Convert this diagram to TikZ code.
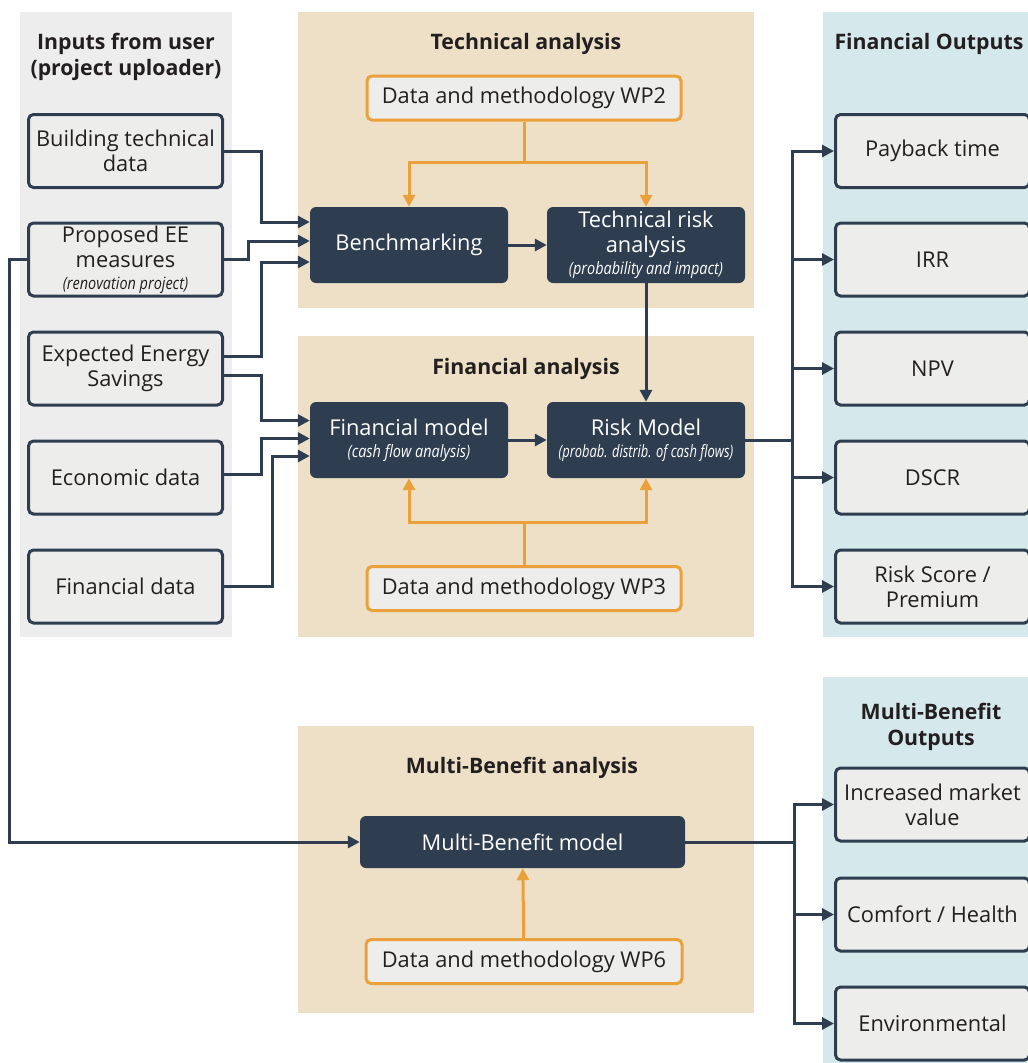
\documentclass[tikz,border=0pt]{standalone}
\usepackage{fontspec}
\setmainfont{Open Sans}
\newfontfamily\narrowit[FakeStretch=0.85]{Open Sans}
\newfontfamily\narrowitb[FakeStretch=0.76]{Open Sans}
\usetikzlibrary{arrows.meta}
\definecolor{navy}{HTML}{2E3E50}
\definecolor{orng}{HTML}{EBA13B}
\definecolor{tanp}{HTML}{EEE0C6}
\definecolor{greyp}{HTML}{EDEDED}
\definecolor{bluep}{HTML}{D5E8EB}
\definecolor{boxf}{HTML}{EDEDEB}
\definecolor{txt}{HTML}{231F20}
\newcommand\bodyf{\fontsize{21.8}{25}\selectfont}
\newcommand\titf{\fontsize{21.3}{26}\selectfont\bfseries}
\newcommand\subf{\fontsize{17}{19}\selectfont\narrowit\itshape}
\newcommand\subfn{\fontsize{17}{19}\selectfont\narrowitb\itshape}
\begin{document}
\begin{tikzpicture}[x=1pt,y=-1pt,
  inbox/.style={draw=navy, line width=3pt, fill=boxf, rounded corners=5pt, minimum width=194pt, minimum height=73pt, text=txt, align=center, font=\bodyf, inner sep=2pt},
  darkbox/.style={fill=navy, rounded corners=6pt, text=white, align=center, font=\bodyf, inner sep=2pt},
  obox/.style={draw=orng, line width=3pt, fill=boxf, rounded corners=5pt, text=txt, font=\bodyf, inner sep=0pt},
  ttl/.style={text=txt, font=\titf, align=center, inner sep=0pt},
  conn/.style={draw=navy, line width=3pt, -{Triangle[length=12pt,width=12pt]}},
  nline/.style={draw=navy, line width=3pt},
  oconn/.style={draw=orng, line width=3pt, -{Triangle[length=12pt,width=12pt]}},
]
\useasboundingbox (0,0) rectangle (1028,1063);
\clip (0,0) rectangle (1028,1063);
% panels
\fill[greyp] (20,12) rectangle (232,637);
\fill[tanp] (298,12) rectangle (754,308);
\fill[tanp] (298,336) rectangle (754,637);
\fill[bluep] (823,12) rectangle (1040,637);
\fill[tanp] (298,726) rectangle (754,1013);
\fill[bluep] (823,677) rectangle (1040,1075);
% titles
\node[ttl] (t1) at (126,57) {Inputs from user\\(project uploader)};
\node[ttl] (t2) at (526,44) {Technical analysis};
\node[ttl] (t3) at (526,369) {Financial analysis};
\node[ttl] (t4) at (929,44) {Financial Outputs};
\node[ttl] (t5) at (522,768) {Multi-Benefit analysis};
\node[ttl] (t6) at (931,727) {Multi-Benefit\\Outputs};
% inputs
\node[inbox] (bld) at (125.5,151) {Building technical\\data};
\node[inbox] (pee) at (125.5,259.5) {Proposed EE\\measures\\[-3pt]{\subf (renovation project)}};
\node[inbox] (ees) at (125.5,368.5) {Expected Energy\\Savings};
\node[inbox] (eco) at (125.5,477.5) {Economic data};
\node[inbox] (fin) at (125.5,586.5) {Financial data};
% outputs
\node[inbox] (pay) at (932.5,151) {Payback time};
\node[inbox] (irr) at (932.5,259.5) {IRR};
\node[inbox] (npv) at (932.5,368.5) {NPV};
\node[inbox] (dscr) at (932.5,477.5) {DSCR};
\node[inbox] (rsk) at (932.5,586.5) {Risk Score /\\Premium};
\node[inbox] (inc) at (932.5,804.5) {Increased market\\value};
\node[inbox] (com) at (932.5,914.5) {Comfort / Health};
\node[inbox] (env) at (932.5,1023.5) {Environmental};
% analysis nodes
\node[darkbox, minimum width=198pt, minimum height=76pt] (bench) at (409,245) {Benchmarking};
\node[darkbox, minimum width=198pt, minimum height=76pt] (tra) at (646,245) {Technical risk\\analysis\\[-3pt]{\subf (probability and impact)}};
\node[darkbox, minimum width=198pt, minimum height=76pt] (fmod) at (409,440) {Financial model\\[-3pt]{\subf (cash flow analysis)}};
\node[darkbox, minimum width=198pt, minimum height=76pt] (rmod) at (646,440) {Risk Model\\[-3pt]{\subfn (probab. distrib. of cash flows)}};
\node[darkbox, minimum width=325pt, minimum height=52pt] (mbm) at (522.5,842) {Multi-Benefit model};
\node[obox, minimum width=314pt, minimum height=44pt] (wp2) at (524,98) {Data and methodology WP2};
\node[obox, minimum width=314pt, minimum height=44pt] (wp3) at (524,588.5) {Data and methodology WP3};
\node[obox, minimum width=316pt, minimum height=44pt] (wp6) at (524,961.5) {Data and methodology WP6};
% orange connectors
\coordinate (j2) at (0,162);
\coordinate (j3) at (0,522);
\draw[oconn] (wp2.south) -- (wp2.south |- j2) -| (bench.north);
\draw[oconn] (wp2.south |- j2) -| (tra.north);
\draw[oconn] (wp3.north) -- (wp3.north |- j3) -| (fmod.south);
\draw[oconn] (wp3.north |- j3) -| (rmod.south);
\draw[oconn] (wp6) -- (mbm);
% internal connectors
\draw[conn] (bench) -- (tra);
\draw[conn] (fmod) -- (rmod);
\draw[conn] (tra) -- (rmod);
% inputs to models
\draw[conn] (bld.east) -- ++(37,0) |- ([yshift=23pt]bench.west);
\draw[conn] (pee.east) -- ++(24,0) |- ([yshift=4pt]bench.west);
\draw[conn] ([yshift=12.5pt]ees.east) -- ++(37,0) |- ([yshift=-17pt]bench.west);
\draw[conn] ([yshift=-6.5pt]ees.east) -- ++(37,0) |- ([yshift=19.5pt]fmod.west);
\draw[conn] ([yshift=3pt]eco.east) -- ++(37,0) |- ([yshift=1.5pt]fmod.west);
\draw[conn] (fin.east) -- ++(48,0) |- ([yshift=-16pt]fmod.west);
\coordinate (lb) at (9,0);
\draw[conn] (pee.west) -- (pee.west -| lb) |- (mbm.west);
% outputs
\coordinate (bus) at (792,440);
\draw[nline] (rmod.east) -- (bus);
\foreach \o in {pay,irr,npv,dscr,rsk} \draw[conn] (bus) |- (\o.west);
\coordinate (bus2) at (794,842);
\draw[nline] (mbm.east) -- (bus2);
\foreach \o in {inc,com,env} \draw[conn] (bus2) |- (\o.west);
\end{tikzpicture}
\end{document}
